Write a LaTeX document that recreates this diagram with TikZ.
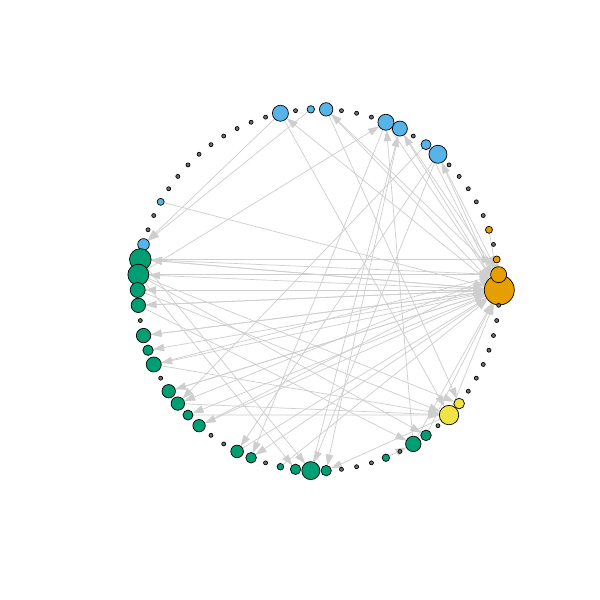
\documentclass[tikz,border=0pt]{standalone}
\usetikzlibrary{arrows.meta}
\definecolor{orng}{HTML}{E69F00}
\definecolor{sky}{HTML}{56B4E9}
\definecolor{grn}{HTML}{009E73}
\definecolor{yel}{HTML}{F0E442}
\definecolor{dotc}{HTML}{707070}
\definecolor{edgec}{HTML}{CECECE}
\pgfdeclarelayer{bg}
\pgfsetlayers{bg,main}
\begin{document}
\begin{tikzpicture}[x=1pt,y=1pt,
  vtx/.style={circle,draw=black,line width=0.7pt,inner sep=0pt,outer sep=0pt},
  ed/.style={draw=edgec,line width=0.7pt,-{Triangle[length=11pt,width=7.5pt,fill=edgec]}}]
\useasboundingbox (0,0) rectangle (600,600);
\begin{scope}[shift={(318.5,310)}]
\foreach \k/\r/\c in {
 0/15/orng, 1/8/orng, 2/3.5/orng, 3/2/dotc, 4/3.5/orng, 5/2/dotc, 6/2/dotc, 7/2/dotc, 8/2/dotc, 9/2/dotc,
 10/9/sky, 11/5/sky, 12/2/dotc, 13/7.5/sky, 14/8/sky, 15/2/dotc, 16/2/dotc, 17/2/dotc, 18/6.7/sky, 19/3.7/sky,
 20/2/dotc, 21/8/sky, 22/2/dotc, 23/2/dotc, 24/2/dotc, 25/2/dotc, 26/2/dotc, 27/2/dotc, 28/2/dotc, 29/2/dotc,
 30/2/dotc, 31/3.5/sky, 32/2/dotc, 33/2/dotc, 34/5.8/sky, 35/10.8/grn, 36/10.5/grn, 37/7.5/grn, 38/7.2/grn, 39/2/dotc,
 40/7.2/grn, 41/5.2/grn, 42/7.5/grn, 43/2/dotc, 44/6.7/grn, 45/6.7/grn, 46/5/grn, 47/6.2/grn, 48/2/dotc, 49/2/dotc,
 50/6.3/grn, 51/5.3/grn, 52/2/dotc, 53/3.3/grn, 54/5.2/grn, 55/9/grn, 56/5.2/grn, 57/2/dotc, 58/2/dotc, 59/2/dotc,
 60/3.7/grn, 61/2/dotc, 62/7.7/grn, 63/5.3/grn, 64/2/dotc, 65/9.7/yel, 66/5.3/yel, 67/2/dotc, 68/2/dotc, 69/2/dotc,
 70/2/dotc, 71/2/dotc, 72/2/dotc, 73/2/dotc}
 { \node[vtx,fill=\c,minimum size={2*\r*1pt}] (n\k) at ({\k*4.8648649}:180.8) {}; }
\end{scope}
\begin{pgfonlayer}{bg}
\fill[white] (0,0) rectangle (600,600);
\foreach \s/\t in {
 0/21, 1/18, 21/34, 19/34, 36/14, 62/14, 55/13, 0/13, 0/10, 14/0, 13/1, 10/1,
 10/55, 10/50, 14/51, 21/65, 18/66, 11/0, 11/45, 18/0,
 0/35, 35/0, 0/36, 36/1, 1/35, 35/2, 37/0, 0/37, 38/0, 0/38, 0/40, 40/0, 0/41, 0/42, 31/0, 42/1,
 36/66, 37/65, 35/55, 36/54, 38/62,
 0/44, 1/45, 0/47, 44/0, 45/65, 46/65, 50/0, 47/1, 65/56, 60/62, 62/0, 63/0, 65/0, 4/0, 53/0, 42/65, 0/46, 13/56, 0/51, 36/63}
 { \draw[ed] (n\s) -- (n\t); }
\end{pgfonlayer}
\end{tikzpicture}
\end{document}
